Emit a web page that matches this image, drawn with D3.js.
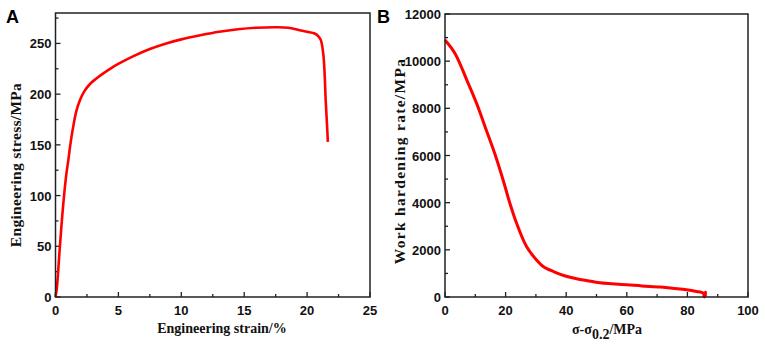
<!DOCTYPE html>
<html lang="en">
<head>
  <meta charset="UTF-8">
  <title>Tensile curve and work hardening rate</title>
  <script src="https://d3js.org/d3.v7.min.js"></script>
  <style>
    body { margin: 0; background: #fff; }
    .tick-label { font-family: "Liberation Sans", Arial, sans-serif; font-weight: bold; font-size: 13px; fill: #111; }
    .axis-title { font-family: "Liberation Serif", "Times New Roman", serif; font-weight: bold; font-size: 14px; fill: #111; }
    .panel-label { font-family: "Liberation Sans", Arial, sans-serif; font-weight: bold; font-size: 18px; fill: #000; }
  </style>
</head>
<body>
<div id="chart"></div>
<script>
// panel A: engineering stress-strain curve
const strainA = [0, 0.1, 0.35, 0.62, 0.85, 1.02, 1.2, 1.41, 1.65, 1.94, 2.3, 2.74, 3.2, 3.8, 4.4, 5.1, 6.2, 7.5, 8.8, 10, 11.5, 13, 14.5, 16, 17.5, 18.5, 19.4, 20.0, 20.6, 20.9, 21.1, 21.3, 21.4, 21.47, 21.56, 21.65];
const stressA = [0, 8, 50, 92, 120, 135, 152, 168, 183, 194, 203, 210, 215, 220.5, 225.5, 230.5, 237.5, 244.5, 250, 254, 258, 261.5, 264, 265.5, 266, 265.5, 263, 261.5, 259.8, 257, 253, 238, 218, 196, 175, 153];

// panel B: work hardening rate vs sigma - sigma0.2
const sigmaB = [0, 3.3, 7.2, 10.4, 13.7, 16.5, 19.2, 21.4, 23.6, 26.9, 30, 32.4, 36, 40, 43.4, 47, 51.1, 55, 60, 65, 71, 75, 79.7, 83, 85.2, 85.6, 86, 85.8, 86.1];
const rateB = [10900, 10330, 9200, 8220, 7050, 6050, 4950, 3980, 3135, 2143, 1600, 1296, 1070, 880, 775, 690, 600, 560, 521, 470, 424, 370, 309, 237, 169, 0, 200, 30, 120];

const ticksAx = [0, 5, 10, 15, 20, 25];
const ticksAy = [0, 50, 100, 150, 200, 250];
const ticksBx = [0, 20, 40, 60, 80, 100];
const ticksBy = [0, 2000, 4000, 6000, 8000, 10000, 12000];

const W = 765, H = 348;
const svg = d3.select("#chart").append("svg").attr("width", W).attr("height", H);

function panel(opt) {
  const x = d3.scaleLinear().domain(opt.xDomain).range([opt.left, opt.right]);
  const y = d3.scaleLinear().domain(opt.yDomain).range([opt.bottom, opt.top]);
  const g = svg.append("g");

  // minor + major ticks, pointing inward
  const xMinor = d3.range(opt.xDomain[0], opt.xDomain[1] + 1e-9, opt.xStep / 2);
  const yMinor = d3.range(opt.yDomain[0], opt.yDomain[1] + 1e-9, opt.yStep / 2);
  g.selectAll(".xt").data(xMinor).join("line")
    .attr("x1", d => x(d)).attr("x2", d => x(d))
    .attr("y1", opt.bottom).attr("y2", (d, i) => opt.bottom - (i % 2 === 0 ? 5 : 3))
    .attr("stroke", "#222").attr("stroke-width", 1.3);
  g.selectAll(".yt").data(yMinor).join("line")
    .attr("y1", d => y(d)).attr("y2", d => y(d))
    .attr("x1", opt.left).attr("x2", (d, i) => opt.left + (i % 2 === 0 ? 5 : 3))
    .attr("stroke", "#222").attr("stroke-width", 1.3);

  g.selectAll(".xl").data(opt.xTicks).join("text")
    .attr("class", "tick-label")
    .attr("x", d => x(d)).attr("y", opt.bottom + 18)
    .attr("text-anchor", "middle").text(d => d);
  g.selectAll(".yl").data(opt.yTicks).join("text")
    .attr("class", "tick-label")
    .attr("x", opt.left - 4).attr("y", d => y(d) + 5)
    .attr("text-anchor", "end").text(d => d);

  // curve
  const line = d3.line().x(d => x(d[0])).y(d => y(d[1])).curve(d3.curveCatmullRom.alpha(0.5));
  g.append("path")
    .datum(opt.xs.map((v, i) => [v, opt.ys[i]]))
    .attr("d", line)
    .attr("fill", "none").attr("stroke", "#ff0000")
    .attr("stroke-width", opt.lw).attr("stroke-linejoin", "round");

  // frame
  g.append("rect")
    .attr("x", opt.left).attr("y", opt.top)
    .attr("width", opt.right - opt.left).attr("height", opt.bottom - opt.top)
    .attr("fill", "none").attr("stroke", "#222").attr("stroke-width", 1.5);

  return {x, y, g};
}

const A = panel({
  left: 55.5, right: 370, top: 13, bottom: 297,
  xDomain: [0, 25], yDomain: [0, 280], xStep: 5, yStep: 50,
  xTicks: ticksAx, yTicks: ticksAy, xs: strainA, ys: stressA, lw: 2.6
});
A.g.append("text").attr("class", "axis-title")
  .attr("x", 222).attr("y", 333).attr("text-anchor", "middle")
  .text("Engineering strain/%");
A.g.append("text").attr("class", "axis-title")
  .style("font-size", "15.5px").style("letter-spacing", "0.3px")
  .attr("transform", "translate(21,165) rotate(-90)").attr("text-anchor", "middle")
  .text("Engineering stress/MPa");
svg.append("text").attr("class", "panel-label").attr("x", 6).attr("y", 23).text("A");

const B = panel({
  left: 445, right: 748, top: 14, bottom: 297,
  xDomain: [0, 100], yDomain: [0, 12000], xStep: 20, yStep: 2000,
  xTicks: ticksBx, yTicks: ticksBy, xs: sigmaB, ys: rateB, lw: 3
});
const bt = B.g.append("text").attr("class", "axis-title")
  .attr("x", 607).attr("y", 334).attr("text-anchor", "middle");
bt.append("tspan").text("σ-σ");
bt.append("tspan").attr("dy", 5).text("0.2");
bt.append("tspan").attr("dy", -5).text("/MPa");
B.g.append("text").attr("class", "axis-title")
  .style("font-size", "15.5px").style("letter-spacing", "1.3px")
  .attr("transform", "translate(405,161) rotate(-90)").attr("text-anchor", "middle")
  .text("Work hardening rate/MPa");
svg.append("text").attr("class", "panel-label").attr("x", 377).attr("y", 23).text("B");
</script>
</body>
</html>
